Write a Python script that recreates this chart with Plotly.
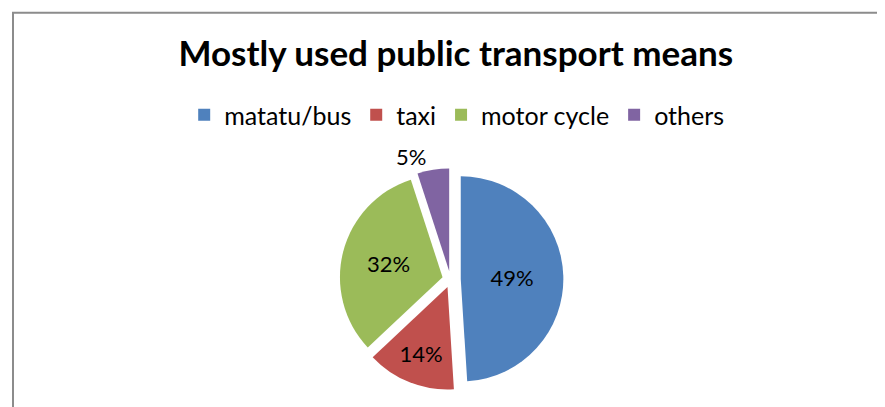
import plotly.graph_objects as go

labels = ["matatu/bus", "taxi", "motor cycle", "others"]
values = [49, 14, 32, 5]
colors = ["#4F81BD", "#C0504D", "#9BBB59", "#8064A2"]
title_text = "Mostly used public transport means"

W, H = 885, 407

fig = go.Figure()
fig.add_trace(go.Pie(
    labels=labels,
    values=values,
    sort=False,
    direction="clockwise",
    rotation=0,
    marker=dict(colors=colors, line=dict(color="white", width=0)),
    pull=[0.1, 0.08, 0.08, 0.08],
    textinfo="percent",
    texttemplate="%{percent:.0%}",
    textposition=["inside", "inside", "inside", "outside"],
    insidetextorientation="horizontal",
    textfont=dict(size=22, color="black", family="Lato"),
    outsidetextfont=dict(size=22, color="black", family="Lato"),
    domain=dict(x=[0.265, 0.735], y=[0.03, 0.6]),
    showlegend=True,
    hoverinfo="label+percent",
))

fig.update_layout(
    width=W, height=H,
    margin=dict(l=0, r=0, t=0, b=0),
    paper_bgcolor="white",
    plot_bgcolor="white",
    font=dict(family="Lato", color="black"),
    title=dict(text="<b>" + title_text + "</b>", x=0.506, xanchor="center",
               y=1 - 46 / H, yanchor="middle",
               font=dict(size=35, family="Lato", color="black")),
    legend=dict(orientation="h", x=0.507, xanchor="center",
                y=1 - 110 / H, yanchor="middle",
                font=dict(size=25, family="Lato", color="black"),
                itemwidth=30, traceorder="normal"),
    shapes=[dict(type="rect", xref="paper", yref="paper",
                 x0=5 / W, x1=1.05, y0=-0.1, y1=1 - 5 / H,
                 line=dict(color="#8C8C8C", width=2), fillcolor="rgba(0,0,0,0)")],
)

fig.write_html("out.html")
